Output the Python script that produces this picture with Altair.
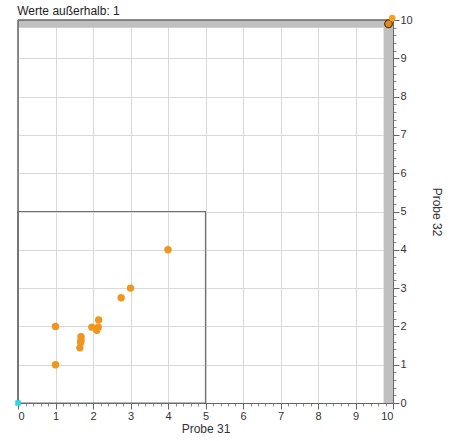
import altair as alt
import pandas as pd

# data
probe31 = [4.0, 3.0, 2.75, 2.15, 1.97, 2.1, 2.14, 1.0, 1.0, 1.68, 1.68, 1.67, 1.65]
probe32 = [4.0, 3.0, 2.75, 2.17, 1.98, 1.9, 1.98, 2.0, 1.0, 1.73, 1.64, 1.58, 1.44]
outside_x = [9.88]
outside_y = [9.9]
outside_mark_x = [9.98]
outside_mark_y = [10.05]
origin_x = [0]
origin_y = [0]
box_lim = [5]
band_x = [9.75]
band_y = [9.8]
major_ticks = list(range(0, 11))
minor_ticks = [i / 5 for i in range(0, 51)]

pts = pd.DataFrame({"x": probe31, "y": probe32})
dom = [0, 10]
FONT = "Liberation Sans"

xs = alt.Scale(domain=dom, nice=False, zero=False)
ys = alt.Scale(domain=dom, nice=False, zero=False)

xaxis = alt.Axis(values=major_ticks, title="Probe 31", orient="bottom", grid=True, gridColor="#d9d9d9",
                 domainColor="#666666", tickColor="#666666", tickSize=6, labelPadding=1,
                 labelColor="#333333", titleColor="#333333", labelFont=FONT, titleFont=FONT,
                 labelFontSize=11, titleFontSize=12, titleFontWeight="normal", titlePadding=2)
yaxis = alt.Axis(values=major_ticks, title="Probe 32", orient="right", grid=True, gridColor="#d9d9d9",
                 domainColor="#666666", tickColor="#666666", tickSize=6, labelPadding=1,
                 labelColor="#333333", titleColor="#333333", labelFont=FONT, titleFont=FONT,
                 labelFontSize=11, titleFontSize=12, titleFontWeight="normal",
                 titleAngle=90, titlePadding=17)

base_pts = alt.Chart(pts).mark_circle(size=55, color="#f0951e", opacity=1).encode(
    x=alt.X("x:Q", scale=xs, axis=xaxis),
    y=alt.Y("y:Q", scale=ys, axis=yaxis),
)

minor_x = alt.Axis(values=minor_ticks, labels=False, title=None, grid=False, domain=False,
                   tickColor="#888888", tickSize=3, orient="bottom")
minor_y = alt.Axis(values=minor_ticks, labels=False, title=None, grid=False, domain=False,
                   tickColor="#888888", tickSize=3, orient="right")

band_r = alt.Chart(pd.DataFrame({"x": band_x, "x2": [10], "y": [0], "y2": [10]})).mark_rect(
    color="#c0c0c0").encode(
    x=alt.X("x:Q", scale=xs, axis=minor_x), x2="x2:Q",
    y=alt.Y("y:Q", scale=ys, axis=minor_y), y2="y2:Q")
band_t = alt.Chart(pd.DataFrame({"x": [0], "x2": [10], "y": band_y, "y2": [10]})).mark_rect(
    color="#c0c0c0").encode(
    x=alt.X("x:Q", scale=xs, axis=None), x2="x2:Q",
    y=alt.Y("y:Q", scale=ys, axis=None), y2="y2:Q")

box = alt.Chart(pd.DataFrame({"x": [0], "x2": box_lim, "y": [0], "y2": box_lim})).mark_rect(
    fill=None, stroke="#707070", strokeWidth=1.2).encode(
    x=alt.X("x:Q", scale=xs, axis=None), x2="x2:Q",
    y=alt.Y("y:Q", scale=ys, axis=None), y2="y2:Q")

left_edge = alt.Chart(pd.DataFrame({"x": [0], "y": [0], "y2": [10]})).mark_rule(
    color="#666666", strokeWidth=1.5).encode(
    x=alt.X("x:Q", scale=xs, axis=None),
    y=alt.Y("y:Q", scale=ys, axis=None), y2="y2:Q")
top_edge = alt.Chart(pd.DataFrame({"x": [0], "x2": [10], "y": [10]})).mark_rule(
    color="#666666", strokeWidth=1.5).encode(
    x=alt.X("x:Q", scale=xs, axis=None), x2="x2:Q",
    y=alt.Y("y:Q", scale=ys, axis=None))

out_pt = alt.Chart(pd.DataFrame({"x": outside_x, "y": outside_y})).mark_point(
    filled=True, size=60, fill="#e08a1c", stroke="#5a3a10", strokeWidth=1.2, shape="circle",
    opacity=1).encode(
    x=alt.X("x:Q", scale=xs, axis=None),
    y=alt.Y("y:Q", scale=ys, axis=None))
out_mark = alt.Chart(pd.DataFrame({"x": outside_mark_x, "y": outside_mark_y})).mark_point(
    filled=True, size=45, color="#f5a020", shape="circle", opacity=1, clip=False).encode(
    x=alt.X("x:Q", scale=xs, axis=None),
    y=alt.Y("y:Q", scale=ys, axis=None))

origin = alt.Chart(pd.DataFrame({"x": origin_x, "y": origin_y})).mark_square(
    size=30, color="#22d8f0", opacity=1, clip=False).encode(
    x=alt.X("x:Q", scale=xs, axis=None),
    y=alt.Y("y:Q", scale=ys, axis=None))

chart = alt.layer(band_r, band_t, base_pts, box, left_edge, top_edge, out_pt, out_mark, origin).resolve_axis(
    x="independent", y="independent").properties(
    width=375, height=383,
    autosize=alt.AutoSizeParams(type="none"),
    padding={"left": 18, "top": 20, "right": 65, "bottom": 38},
    title=alt.TitleParams("Werte außerhalb: 1", anchor="start", font=FONT, fontSize=12,
                          fontWeight="normal", color="#222222", offset=4, dy=8, dx=2),
).configure_view(stroke=None)

chart.save("out.html", embed_options={"renderer": "svg", "actions": False})
